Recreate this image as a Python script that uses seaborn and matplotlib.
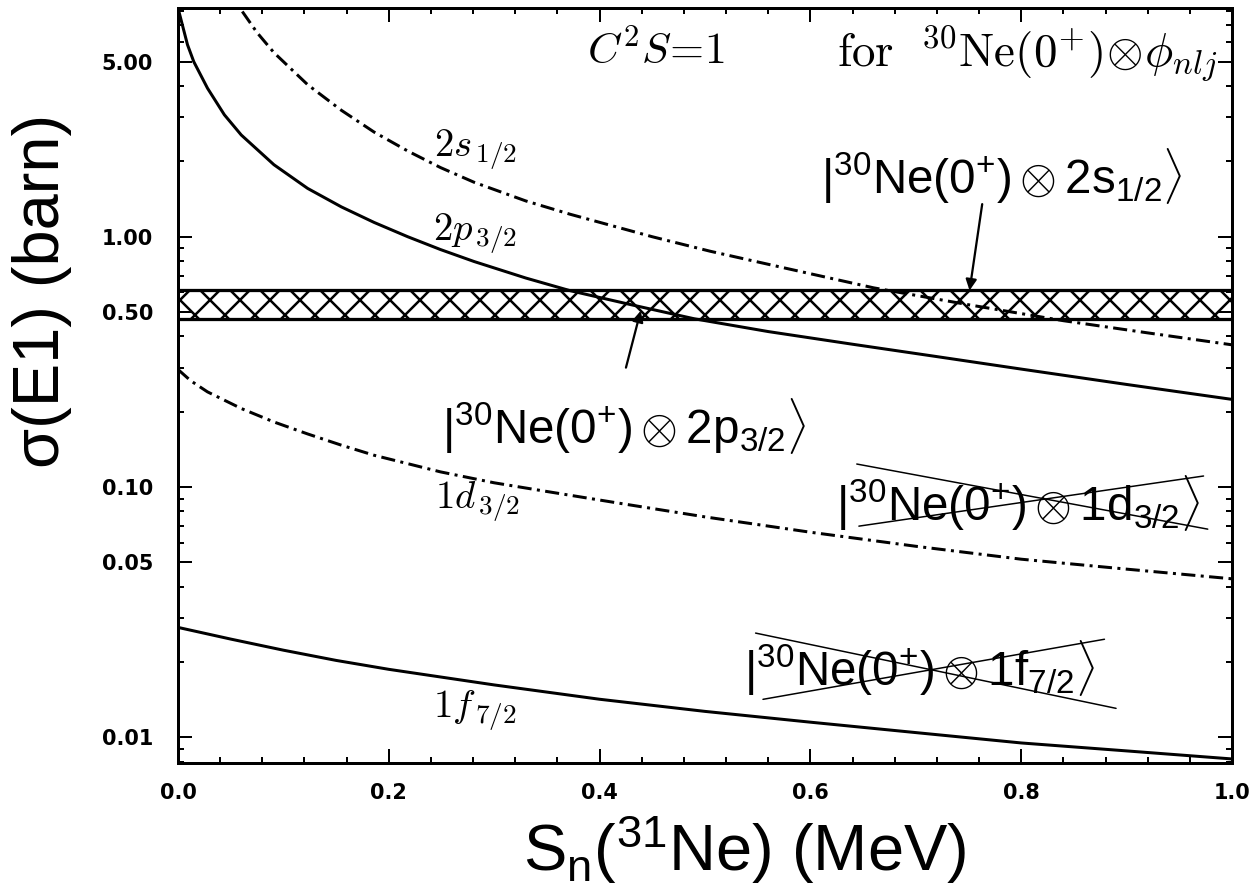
import matplotlib
matplotlib.use("Agg")
import matplotlib.pyplot as plt
import matplotlib.ticker as mticker
import seaborn as sns

# E1 Coulomb-breakup cross sections (barn) vs. one-neutron separation energy (MeV), C^2S = 1
x_2s = [0.061, 0.075, 0.091, 0.123, 0.155, 0.186, 0.218, 0.249, 0.281, 0.33,
        0.372, 0.45, 0.505, 0.58, 0.66, 0.75, 0.84, 0.92, 1.0]
y_2s = [7.94, 6.54, 5.44, 4.05, 3.2, 2.62, 2.2, 1.89, 1.65, 1.39,
        1.23, 1.0, 0.875, 0.743, 0.625, 0.535, 0.462, 0.413, 0.37]

x_2p = [0.0, 0.009, 0.015, 0.028, 0.044, 0.06, 0.091, 0.123, 0.155, 0.186,
        0.218, 0.249, 0.281, 0.33, 0.372, 0.43, 0.49, 0.56, 0.64, 0.72,
        0.8, 0.9, 1.0]
y_2p = [8.2, 5.85, 5.0, 3.92, 3.07, 2.55, 1.94, 1.56, 1.316, 1.141,
        1.0, 0.889, 0.796, 0.684, 0.609, 0.535, 0.47, 0.418, 0.372, 0.332,
        0.296, 0.257, 0.224]

x_1d = [0.0, 0.012, 0.028, 0.06, 0.091, 0.123, 0.155, 0.186, 0.218, 0.249, 0.3,
        0.35, 0.42, 0.5, 0.6, 0.7, 0.8, 0.9, 1.0]
y_1d = [0.295, 0.266, 0.24, 0.206, 0.182, 0.163, 0.147, 0.134, 0.124, 0.115, 0.104,
        0.096, 0.086, 0.076, 0.066, 0.058, 0.0515, 0.047, 0.043]

x_1f = [0.0, 0.05, 0.1, 0.15, 0.2, 0.3, 0.4, 0.5, 0.6, 0.7, 0.8, 0.9, 1.0]
y_1f = [0.0275, 0.0247, 0.0223, 0.0203, 0.0187, 0.0162, 0.0142, 0.0127, 0.0115,
        0.01045, 0.0095, 0.00883, 0.0082]

# measured sigma(E1) = 540 +- 70 mb
sigma_exp = 0.54
sigma_err = 0.07

x_ticks = [0.0, 0.2, 0.4, 0.6, 0.8, 1.0]
x_tick_labels = ["0.0", "0.2", "0.4", "0.6", "0.8", "1.0"]
y_ticks = [0.01, 0.05, 0.10, 0.50, 1.00, 5.00]
y_tick_labels = ["0.01", "0.05", "0.10", "0.50", "1.00", "5.00"]

sns.set_theme(style="ticks")
plt.rcParams["font.family"] = ["DejaVu Sans"]
plt.rcParams["text.color"] = "black"
plt.rcParams["axes.labelcolor"] = "black"
plt.rcParams["xtick.color"] = "black"
plt.rcParams["ytick.color"] = "black"
plt.rcParams["mathtext.rm"] = "Liberation Sans"
plt.rcParams["mathtext.it"] = "Liberation Sans:italic"
plt.rcParams["mathtext.bf"] = "Liberation Sans:bold"
plt.rcParams["mathtext.sf"] = "Liberation Sans"
plt.rcParams["hatch.linewidth"] = 1.0
plt.rcParams["hatch.color"] = "black"

DPI = 180
W, H = 1255, 893
fig = plt.figure(figsize=(W / DPI, H / DPI), dpi=DPI)
fig.patch.set_facecolor("white")
ax = fig.add_axes([178 / W, 1 - 763 / H, (1232 - 178) / W, (763 - 8) / H])
ax.set_facecolor("white")

solid = "-"
dashdot = (0, (4.7, 1.8, 1.0, 1.8))
for xs, ys, ls in [(x_2s, y_2s, dashdot), (x_2p, y_2p, solid),
                   (x_1d, y_1d, dashdot), (x_1f, y_1f, solid)]:
    sns.lineplot(x=xs, y=ys, ax=ax, color="black", linewidth=1.2,
                 linestyle=ls, estimator=None, sort=False)

# experimental band
lo, hi = sigma_exp - sigma_err, sigma_exp + sigma_err
ax.axhspan(lo, hi, facecolor="none", edgecolor="black", hatch="xx", linewidth=0)
for v in (lo, hi):
    ax.axhline(v, color="black", linewidth=1.3)

ax.set_yscale("log")
ax.set_xlim(0, 1)
ax.set_ylim(0.0079, 8.2)

ax.set_xticks(x_ticks, x_tick_labels, fontweight="bold", fontsize=8.3)
ax.set_yticks(y_ticks, y_tick_labels, fontweight="bold", fontsize=8.3)
ax.xaxis.set_minor_locator(mticker.MultipleLocator(0.04))
ax.yaxis.set_minor_locator(mticker.LogLocator(base=10, subs=(2, 3, 4, 6, 7, 8, 9), numticks=20))
ax.yaxis.set_minor_formatter(mticker.NullFormatter())
ax.tick_params(which="both", direction="in", top=True, right=True, width=0.8, color="black")
ax.tick_params(which="major", length=5.6)
ax.tick_params(which="minor", length=2.4)
ax.tick_params(axis="x", pad=8)
ax.tick_params(axis="y", pad=10)
for s in ax.spines.values():
    s.set_linewidth(1.2)
    s.set_color("black")

# curve labels
cm = dict(math_fontfamily="cm", color="black", ha="center", va="center", fontsize=15.5)
ax.text(0.282, 2.23, r"$2s_{\,1/2}$", **cm)
ax.text(0.282, 1.03, r"$2p_{\,3/2}$", **cm)
ax.text(0.284, 0.087, r"$1d_{\,3/2}$", **cm)
ax.text(0.282, 0.0128, r"$1f_{\,7/2}$", **cm)

ax.text(0.454, 0.943, r"$C^{2}S\!=\!1$", transform=ax.transAxes,
        math_fontfamily="cm", ha="center", va="center", fontsize=17.5)
ax.text(0.806, 0.938, r"$\mathrm{for}\ \ {}^{30}\mathrm{Ne}(0^{+})\!\otimes\!\phi_{nlj}$",
        transform=ax.transAxes, math_fontfamily="cm", ha="center", va="center", fontsize=18.8)

# configuration annotations
sans = dict(math_fontfamily="custom", color="black", ha="center", va="center", fontsize=19)
ax.text(0.782, 1.75, r"$|^{30}\mathrm{Ne}(0^{+})\otimes 2\mathrm{s}_{1/2}\rangle$", **sans)
ax.text(0.423, 0.175, r"$|^{30}\mathrm{Ne}(0^{+})\otimes 2\mathrm{p}_{3/2}\rangle$", **sans)
ax.text(0.797, 0.0863, r"$|^{30}\mathrm{Ne}(0^{+})\otimes 1\mathrm{d}_{3/2}\rangle$", **sans)
ax.text(0.704, 0.0189, r"$|^{30}\mathrm{Ne}(0^{+})\otimes 1\mathrm{f}_{7/2}\rangle$", **sans)

arrow = dict(arrowstyle="-|>", color="black", lw=0.9, mutation_scale=9, shrinkA=0, shrinkB=0)
ax.annotate("", xy=(0.751, 0.61), xytext=(0.763, 1.35), arrowprops=arrow)
ax.annotate("", xy=(0.439, 0.506), xytext=(0.425, 0.30), arrowprops=arrow)

strike = dict(arrowstyle="-", color="black", lw=0.6, shrinkA=0, shrinkB=0)
ax.annotate("", xy=(0.977, 0.0679), xytext=(0.644, 0.1236), arrowprops=strike)
ax.annotate("", xy=(0.973, 0.1107), xytext=(0.646, 0.0698), arrowprops=strike)
ax.annotate("", xy=(0.890, 0.01306), xytext=(0.548, 0.0261), arrowprops=strike)
ax.annotate("", xy=(0.879, 0.02466), xytext=(0.555, 0.01419), arrowprops=strike)

# axis titles
fig.text(42 / W, 1 - 291 / H, "σ(E1) (barn)", rotation=90, ha="center", va="center",
         fontsize=26, family=["Liberation Sans", "DejaVu Sans"], color="black")
fig.text(745 / W, 1 - 850 / H, r"$\mathrm{S_n(^{31}Ne)\ (MeV)}$", ha="center", va="center",
         fontsize=26, math_fontfamily="custom", color="black")

fig.savefig("out.png", dpi=DPI)
